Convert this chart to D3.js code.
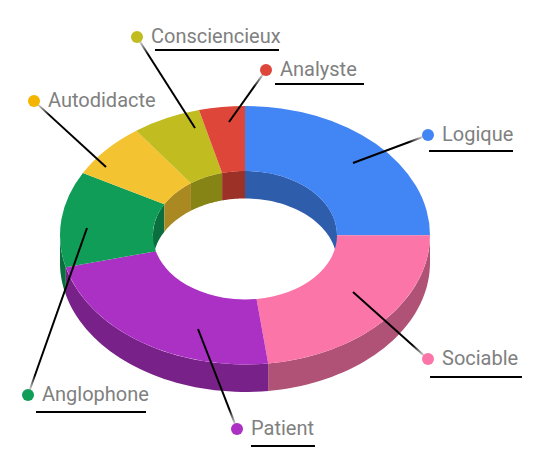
<!DOCTYPE html>
<html>
<head>
<meta charset="utf-8">
<script src="https://cdn.jsdelivr.net/npm/d3@7"></script>
<style>
	html, body { margin: 0; padding: 0; background: #fff; }
	svg { display: block; }
</style>
</head>
<body>
<div id="chart"></div>
<script>
// chart values (percent of the ring)
var categories = ["Logique", "Sociable", "Patient", "Anglophone", "Autodidacte", "Consciencieux", "Analyste"];
var values = [25, 23, 23, 12, 7, 6, 4];
var colors = ["#4285f4", "#fc75a8", "#ab30c4", "#0f9d58", "#f3c331", "#c1bc1f", "#dd4638"];
var dotColors = ["#4285f4", "#fc75a8", "#ab30c4", "#0f9d58", "#f4b400", "#c1bc1f", "#dd4638"];

// hand placed callouts: start inside the slice, dot, label x, underline from/to (none for Autodidacte)
var callouts = {
	"Logique":       { from: [353, 163], dot: [428, 135], textX: 442, textY: 134, line: [429, 513], lineY: 151 },
	"Sociable":      { from: [353, 292], dot: [428, 359], textX: 442, textY: 358, line: [430, 522], lineY: 377 },
	"Patient":       { from: [198, 329], dot: [237, 429], textX: 251, textY: 428, line: [251, 315], lineY: 446 },
	"Anglophone":    { from: [87, 228],  dot: [28, 395],  textX: 42,  textY: 394, line: [36, 146],  lineY: 412 },
	"Autodidacte":   { from: [106, 167], dot: [34, 101],  textX: 48,  textY: 100, line: null },
	"Consciencieux": { from: [195, 128], dot: [137, 37],  textX: 151, textY: 36,  line: [155, 279], lineY: 50 },
	"Analyste":      { from: [229, 122], dot: [266, 70],  textX: 280, textY: 69,  line: [275, 364], lineY: 84 }
};

var width = 535;
var height = 473;
var cx = 245;
var cy = 235.2;
var rx = 185;
var innerRx = 92;
var squash = 129.2 / 185; // ring is tilted, so y radius is shorter
var depth = 27.5;

var svg = d3.select("#chart")
	.append("svg")
	.attr("width", width)
	.attr("height", height);

var defs = svg.append("defs");

var pie = d3.pie().sort(null).value(function(d) { return d; });
var slices = pie(values);

// point on the tilted ellipse, angle clockwise from top like d3.arc
function px(r, a) { return cx + r * Math.sin(a); }
function py(r, a, drop) { return cy - r * squash * Math.cos(a) + drop; }

var line = d3.line();

// band between an arc and the same arc pushed down by depth
function wall(r, a0, a1) {
	var steps = d3.range(0, 41).map(function(i) { return a0 + (a1 - a0) * i / 40; });
	var top = steps.map(function(a) { return [px(r, a), py(r, a, 0)]; });
	var bottom = steps.slice().reverse().map(function(a) { return [px(r, a), py(r, a, depth)]; });
	return line(top.concat(bottom)) + "Z";
}

function shade(c) {
	var k = d3.rgb(c);
	return d3.rgb(k.r * 0.7, k.g * 0.7, k.b * 0.7).formatHex();
}

// outer wall only shows on the lower half
var outerWalls = svg.append("g").attr("class", "outer-walls");
slices.forEach(function(s, i) {
	var a0 = Math.max(s.startAngle, Math.PI / 2);
	var a1 = Math.min(s.endAngle, Math.PI * 1.5);
	if (a1 <= a0) return;
	outerWalls.append("path")
		.attr("d", wall(rx, a0, a1))
		.style("fill", shade(colors[i]));
});

// inner wall only shows on the upper half, the top face covers the rest
var innerWalls = svg.append("g").attr("class", "inner-walls");
slices.forEach(function(s, i) {
	// right quarter
	var a0 = s.startAngle;
	var a1 = Math.min(s.endAngle, Math.PI / 2);
	if (a1 > a0) {
		innerWalls.append("path")
			.attr("d", wall(innerRx, a0, a1))
			.style("fill", shade(colors[i]));
	}
	// left quarter
	a0 = Math.max(s.startAngle, Math.PI * 1.5);
	a1 = s.endAngle;
	if (a1 > a0) {
		innerWalls.append("path")
			.attr("d", wall(innerRx, a0, a1))
			.style("fill", shade(colors[i]));
	}
});

var arc = d3.arc().innerRadius(innerRx).outerRadius(rx);

svg.append("g")
	.attr("class", "top-face")
	.attr("transform", "translate(" + cx + "," + cy + ") scale(1," + squash + ")")
	.selectAll("path")
	.data(slices)
	.enter().append("path")
	.attr("d", arc)
	.style("fill", function(d, i) { return colors[i]; });

// callouts
var labels = svg.append("g").attr("class", "callouts");

categories.forEach(function(name, i) {
	var c = callouts[name];
	var dx = c.dot[0] - c.from[0];
	var dy = c.dot[1] - c.from[1];
	var len = Math.sqrt(dx * dx + dy * dy);
	var end = [c.dot[0] - dx / len * 5, c.dot[1] - dy / len * 5];

	// leader fades out over the last bit before the dot
	var grad = defs.append("linearGradient")
		.attr("id", "fade" + i)
		.attr("gradientUnits", "userSpaceOnUse")
		.attr("x1", c.from[0]).attr("y1", c.from[1])
		.attr("x2", end[0]).attr("y2", end[1]);
	grad.append("stop").attr("offset", 1 - 16 / (len - 5)).attr("stop-color", "#000");
	grad.append("stop").attr("offset", 1).attr("stop-color", "#ddd");

	labels.append("path")
		.attr("d", line([c.from, end]))
		.style("fill", "none")
		.style("stroke", "url(#fade" + i + ")")
		.style("stroke-width", 2);

	labels.append("circle")
		.attr("cx", c.dot[0])
		.attr("cy", c.dot[1])
		.attr("r", 6)
		.style("fill", dotColors[i]);

	labels.append("text")
		.attr("x", c.textX)
		.attr("y", c.textY)
		.attr("dy", "0.35em")
		.style("font-family", "Roboto")
		.style("font-size", "20px")
		.style("fill", "#808080")
		.text(name);

	if (c.line) {
		labels.append("line")
			.attr("x1", c.line[0])
			.attr("x2", c.line[1])
			.attr("y1", c.lineY)
			.attr("y2", c.lineY)
			.style("stroke", "#000")
			.style("stroke-width", 2);
	}
});
</script>
</body>
</html>
